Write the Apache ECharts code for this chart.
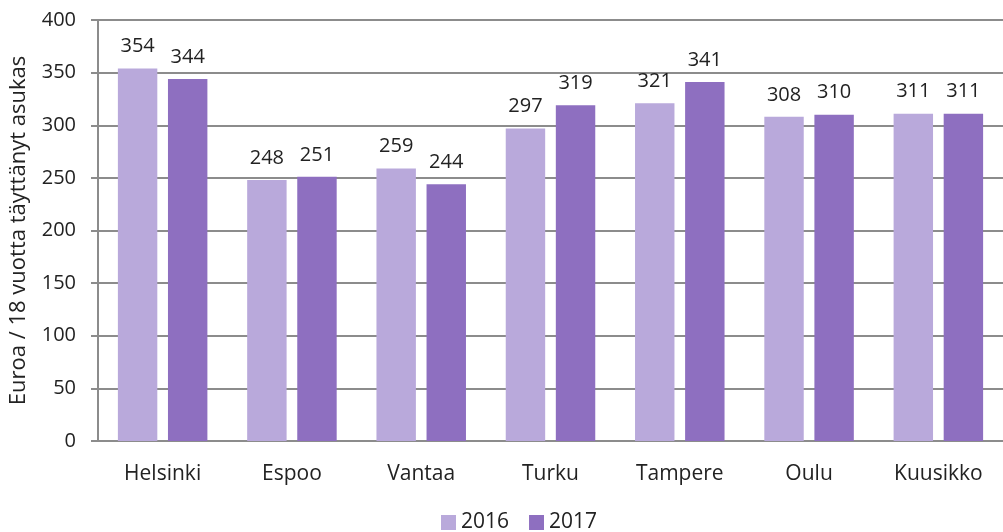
<!DOCTYPE html>
<html>
<head>
<meta charset="utf-8">
<script src="https://cdn.jsdelivr.net/npm/echarts@6/dist/echarts.min.js"></script>
<style>
html, body { margin: 0; padding: 0; background: #fff; }
#chart { width: 1003px; height: 532px; }
</style>
</head>
<body>
<div id="chart"></div>
<script>
const categories = ["Helsinki", "Espoo", "Vantaa", "Turku", "Tampere", "Oulu", "Kuusikko"]
const values2016 = [354, 248, 259, 297, 321, 308, 311]
const values2017 = [344, 251, 244, 319, 341, 310, 311]
const yTicks = { min: 0, max: 400, interval: 50 }

const font = "Open Sans"
const myChart = echarts.init(document.getElementById("chart"))

function barSeries(name, data, color) {
    return {
        name: name,
        type: "bar",
        data: data,
        barWidth: "30.5%",
        barGap: "27%",
        itemStyle: { color: color },
        label: {
            show: true,
            position: "top",
            distance: 12,
            color: "#222",
            fontFamily: font,
            fontSize: 20
        }
    }
}

myChart.setOption({
    animation: false,
    textStyle: { fontFamily: font },
    grid: { left: 96, right: -10, top: 20, bottom: 91 },
    legend: {
        top: 507,
        left: 436,
        itemWidth: 15,
        itemHeight: 15,
        itemGap: 20,
        icon: "rect",
        textStyle: { fontSize: 21, color: "#222", fontFamily: font }
    },
    xAxis: {
        type: "category",
        data: categories,
        axisLine: { lineStyle: { color: "#8c8c8c", width: 2 } },
        axisTick: { show: false },
        axisLabel: { color: "#222", fontSize: 21, margin: 23, fontFamily: font }
    },
    yAxis: {
        type: "value",
        min: yTicks.min,
        max: yTicks.max,
        interval: yTicks.interval,
        name: "Euroa / 18 vuotta täyttänyt asukas",
        nameLocation: "middle",
        nameGap: 68,
        nameTextStyle: { fontSize: 22, color: "#222", fontFamily: font },
        axisLine: { show: true, lineStyle: { color: "#8c8c8c", width: 2 } },
        axisTick: { show: true, length: 7, lineStyle: { color: "#8c8c8c", width: 2 } },
        axisLabel: { color: "#222", fontSize: 20, margin: 22, fontFamily: font },
        splitLine: { lineStyle: { color: "#8c8c8c", width: 2 } }
    },
    series: [
        barSeries("2016", values2016, "#b9a9db"),
        barSeries("2017", values2017, "#8e6fc0")
    ]
})
</script>
</body>
</html>
